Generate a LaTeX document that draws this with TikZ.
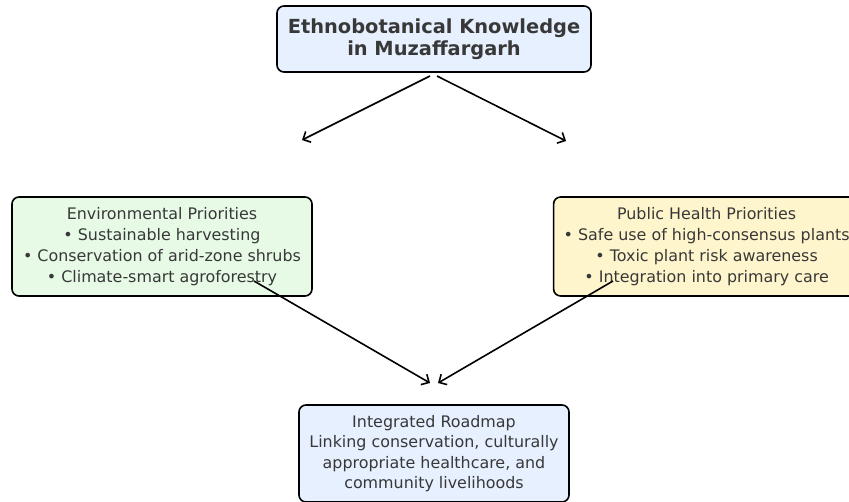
\documentclass[tikz,border=0pt]{standalone}
\usepackage{fontspec}
\setmainfont{DejaVu Sans}
\usepackage{xcolor}
\usetikzlibrary{arrows.meta,positioning}
\definecolor{inkgray}{HTML}{383838}
\definecolor{bluefill}{HTML}{E6F0FF}
\definecolor{greenfill}{HTML}{E6FAE6}
\definecolor{yellowfill}{HTML}{FFF5CC}
\tikzset{%
  % boxes
  panel/.style={draw, rounded corners=7pt, line width=1.6pt, align=center,
    text=inkgray, inner sep=2pt, font=\fontsize{15.9}{21}\selectfont},
  headbox/.style={panel, fill=bluefill, minimum width=314pt, minimum height=66pt,
    font=\fontsize{19.4}{22}\selectfont\bfseries},
  envbox/.style={panel, fill=greenfill, minimum width=300pt, minimum height=99pt},
  healthbox/.style={panel, fill=yellowfill, minimum width=306pt, minimum height=99pt},
  mapbox/.style={panel, fill=bluefill, minimum width=270pt, minimum height=97pt,
    font=\fontsize{15.9}{20.3}\selectfont},
  % edge styles
  flow/.style={-{Straight Barb[length=6pt,width=12pt]}, line width=1.6pt},
}
\begin{document}
\begin{tikzpicture}[x=1pt, y=-1pt]
  \useasboundingbox (0,0) rectangle (849,501);

  \node[headbox] (know) at (434,39) {Ethnobotanical Knowledge\\in Muzaffargarh};
  \node[envbox] (env) at (162,246.5)
    {Environmental Priorities\\\textbullet\ Sustainable harvesting\\
     \textbullet\ Conservation of arid-zone shrubs\\\textbullet\ Climate-smart agroforestry};
  \node[healthbox, right=240pt of env] (health)
    {Public Health Priorities\\\textbullet\ Safe use of high-consensus plants\\
     \textbullet\ Toxic plant risk awareness\\\textbullet\ Integration into primary care};
  \node[mapbox] (map) at (434,453.5)
    {Integrated Roadmap\\Linking conservation, culturally\\appropriate healthcare, and\\community livelihoods};

  % arrow ends
  \coordinate (know-l) at (430,76);
  \coordinate (know-r) at (437,76);
  \coordinate (env-in) at (302,140);
  \coordinate (health-in) at (566,141);
  \coordinate (env-out) at (254,281);
  \coordinate (health-out) at (613,281);
  \coordinate (map-l) at (430,383);
  \coordinate (map-r) at (438,383);

  \draw[flow] (know-l) -- (env-in);
  \draw[flow] (know-r) -- (health-in);
  \draw[flow] (env-out) -- (map-l);
  \draw[flow] (health-out) -- (map-r);
\end{tikzpicture}
\end{document}
